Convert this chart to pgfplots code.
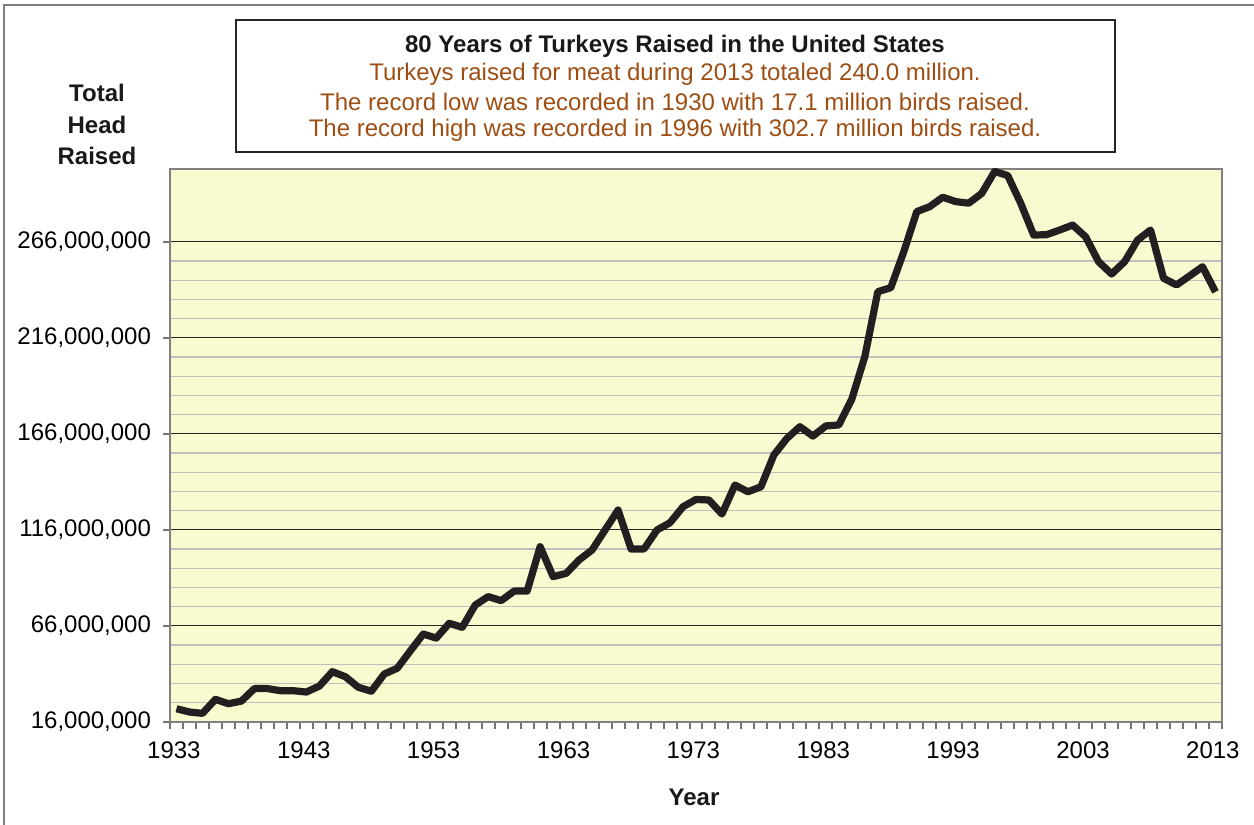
\documentclass[border=0pt]{standalone}
\usepackage{pgfplots}
\pgfplotsset{compat=1.18}
\usepackage{fontspec}
\setmainfont{Liberation Sans}
\definecolor{bgyellow}{RGB}{250,250,208}
\definecolor{titlebrown}{RGB}{158,78,18}
\definecolor{linecol}{RGB}{35,31,32}
\begin{document}
\begin{tikzpicture}
\useasboundingbox (0pt,0pt) rectangle (627pt,412.5pt);
\draw[black!50, line width=0.7pt] (2pt,0pt) -- (2pt,410pt) -- (627pt,410pt);
\begin{axis}[
  at={(85pt,51.5pt)}, anchor=south west,
  scale only axis, width=526pt, height=276.5pt,
  xmin=1932.5, xmax=2013.5,
  ymin=16, ymax=304,
  axis background/.style={fill=bgyellow},
  axis line style={black!50, line width=0.7pt},
  xtick={1932.5,1933.5,...,2013.5},
  xticklabel={\relax},
  extra x ticks={1932.8,1942.8,1952.8,1962.8,1972.8,1982.8,1992.8,2002.8,2012.8},
  extra x tick labels={1933,1943,1953,1963,1973,1983,1993,2003,2013},
  extra x tick style={major tick length=0pt, grid=none, xticklabel style={yshift=-6.5pt}},
  ytick={16,66,116,166,216,266},
  yticklabels={{16,000,000},{66,000,000},{116,000,000},{166,000,000},{216,000,000},{266,000,000}},
  minor y tick num=4,
  ymajorgrids, yminorgrids,
  major grid style={black!85, line width=0.5pt},
  minor grid style={black!25, line width=0.7pt},
  tick align=outside,
  major tick length=3.5pt,
  minor tick length=0pt,
  tick style={black!55, line width=1pt},
  xtick pos=bottom, ytick pos=left,
  yticklabel style={xshift=-2.5pt},
  ticklabel style={font=\fontsize{12}{14}\selectfont},
  /pgf/number format/assume math mode=true,
  clip=false,
]
\addplot[color=linecol, line width=3.6pt, line join=round, mark=none] table[x=year, y=v] {
year v
1933 22.9
1934 21.2
1935 20.5
1936 27.8
1937 25.5
1938 26.9
1939 33.4
1940 33.4
1941 32.3
1942 32.3
1943 31.6
1944 34.7
1945 42.2
1946 39.6
1947 34.1
1948 32.0
1949 41.0
1950 44.0
1951 53.0
1952 61.8
1953 59.7
1954 67.4
1955 65.3
1956 76.9
1957 81.3
1958 79.2
1959 84.2
1960 84.2
1961 107.3
1962 91.7
1963 93.4
1964 100.4
1965 105.6
1966 116.0
1967 126.4
1968 106.1
1969 106.1
1970 116.0
1971 119.8
1972 128.1
1973 131.9
1974 131.6
1975 124.3
1976 139.4
1977 135.9
1978 138.5
1979 155.1
1980 163.7
1981 169.8
1982 164.9
1983 170.2
1984 170.7
1985 184.2
1986 206.3
1987 240.1
1988 242.2
1989 260.9
1990 281.8
1991 284.4
1992 289.3
1993 287.0
1994 286.2
1995 291.3
1996 302.7
1997 300.6
1998 286.2
1999 269.6
2000 269.8
2001 272.2
2002 274.8
2003 268.7
2004 255.7
2005 249.3
2006 255.7
2007 267.0
2008 272.2
2009 247.1
2010 243.6
2011 248.3
2012 253.1
2013 240.0
};
\end{axis}
\draw[black!85, line width=0.8pt] (118pt,336.5pt) rectangle (557.5pt,402.5pt);
\node[font=\fontsize{12}{14}\selectfont\bfseries, text=black!90] at (337.5pt,389.5pt) {80 Years of Turkeys Raised in the United States};
\node[font=\fontsize{12}{14}\selectfont, text=titlebrown] at (337.5pt,375.5pt) {Turkeys raised for meat during 2013 totaled 240.0 million.};
\node[font=\fontsize{12}{14}\selectfont, text=titlebrown] at (337.5pt,361.5pt) {The record low was recorded in 1930 with 17.1 million birds raised.};
\node[font=\fontsize{12}{14}\selectfont, text=titlebrown] at (337.5pt,347.5pt) {The record high was recorded in 1996 with 302.7 million birds raised.};
\node[font=\fontsize{12}{14}\selectfont\bfseries, text=black!90] at (48.5pt,366pt) {Total};
\node[font=\fontsize{12}{14}\selectfont\bfseries, text=black!90] at (48.5pt,350pt) {Head};
\node[font=\fontsize{12}{14}\selectfont\bfseries, text=black!90] at (48.5pt,334.5pt) {Raised};
\node[font=\fontsize{12}{14}\selectfont\bfseries, text=black!90] at (347pt,14pt) {Year};
\end{tikzpicture}
\end{document}
